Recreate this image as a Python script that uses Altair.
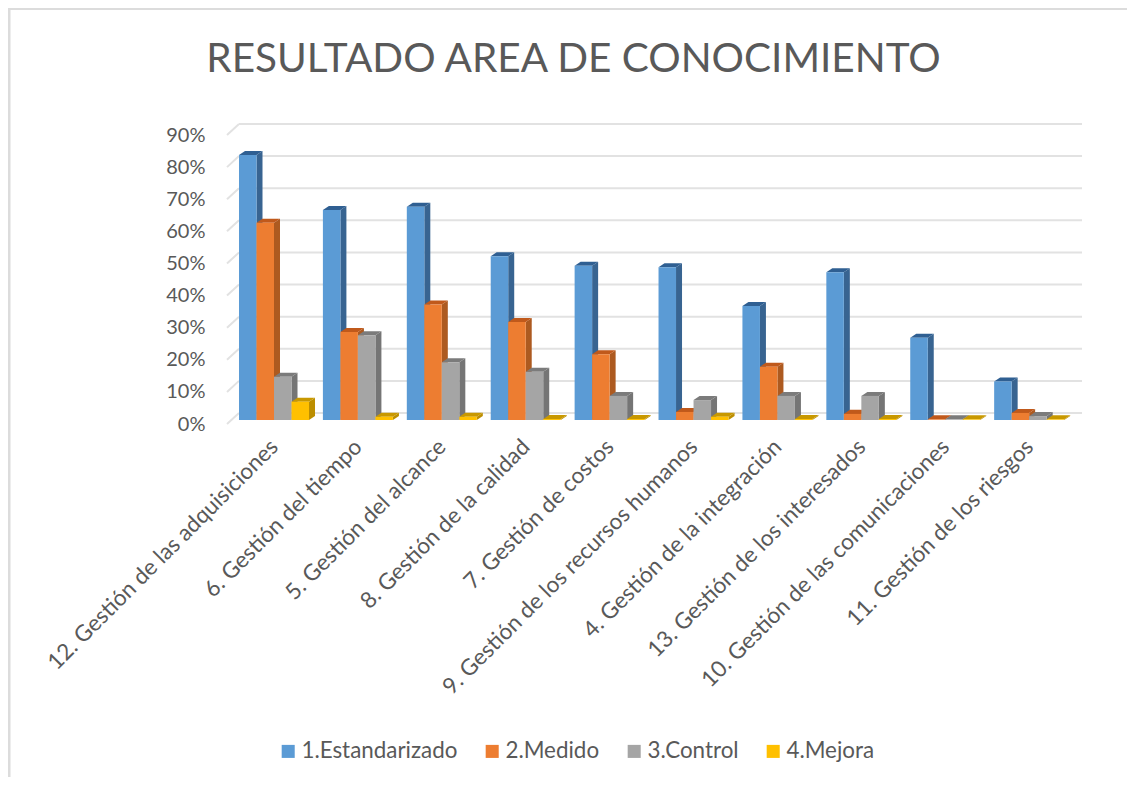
import altair as alt
import pandas as pd

categories = ["12. Gestión de las adquisiciones", "6. Gestión del tiempo", "5. Gestión del alcance",
              "8. Gestión de la calidad", "7. Gestión de costos", "9. Gestión de los recursos humanos",
              "4. Gestión de la integración", "13. Gestión de los interesados",
              "10. Gestión de las comunicaciones", "11. Gestión de los riesgos"]
series_names = ["1.Estandarizado", "2.Medido", "3.Control", "4.Mejora"]
estandarizado = [82.5, 65.4, 66.4, 51, 48, 47.6, 35.5, 46, 25.6, 12]
medido = [61.4, 27.4, 36, 30.5, 20.5, 2.5, 16.6, 1.9, 0.2, 2.2]
control = [13.5, 26.4, 18, 15, 7.5, 6.2, 7.5, 7.5, 0.2, 1.2]
mejora = [5.7, 1.0, 1.0, 0.3, 0.3, 1.0, 0.3, 0.3, 0.2, 0.2]
ticks = [0, 10, 20, 30, 40, 50, 60, 70, 80, 90]

front_colors = ["#5b9bd5", "#ed7d31", "#a5a5a5", "#ffc000"]
side_colors = ["#386491", "#ad5a20", "#757575", "#bc8e00"]
top_colors = ["#2f5f92", "#c0591b", "#7b7b7b", "#c89800"]

BAR_W = 0.2086      # bar width, in category units
DX, DY = 0.0715, 1.25  # depth of a bar
WX, WY = 0.143, 3.43   # depth of the walls
X0, X1 = -0.56, 9.63
Y_MAX = 93.43
PX_W, PX_H = 855, 300
PAD_L, PAD_T, PAD_R, PAD_B = 219, 116, 45, 353

x_scale = alt.Scale(domain=[X0, X1], nice=False, zero=False)
y_scale = alt.Scale(domain=[0, Y_MAX], nice=False, zero=False)
FONT = "Lato"
TXT = "#595959"
all_values = [estandarizado, medido, control, mejora]

# every layer carries the same axis definition, so that they merge unchanged
x_axis = alt.Axis(
    values=list(range(len(categories))),
    labelExpr="[" + ",".join("'%s'" % c for c in categories) + "][datum.value]",
    labelAngle=-45, labelAlign="right", labelBaseline="middle", labelFontSize=22.5, labelFont=FONT,
    labelColor=TXT, labelPadding=19, labelLimit=500, labelOverlap=False, labelBound=False,
    labelFlush=False, ticks=False, domain=False, grid=False, title=None)
y_axis = alt.Axis(
    values=ticks, labelExpr="datum.value + '%'", labelFontSize=20, labelFont=FONT, labelColor=TXT,
    labelPadding=22, labelOverlap=False, labelBound=False, labelFlush=False,
    ticks=False, domain=False, grid=False, title=None)


def qx(field):
    return alt.X(field, scale=x_scale, axis=x_axis)


def qy(field):
    return alt.Y(field, scale=y_scale, axis=y_axis)


# walls / gridlines
grid = pd.DataFrame({"v": ticks})
grid["y"] = grid.v + WY
grid["xa"] = X0 + WX
grid["xb"] = X1
gridlines = alt.Chart(grid).mark_rule(color="#e2e2e2", strokeWidth=2).encode(
    x=qx("xa:Q"), x2="xb:Q", y=qy("y:Q"))
diag_rows = []
for v in ticks:
    diag_rows += [{"v": v, "x": X0, "y": v}, {"v": v, "x": X0 + WX, "y": v + WY}]
diagonals = alt.Chart(pd.DataFrame(diag_rows)).mark_line(color="#e2e2e2", strokeWidth=2).encode(
    x=qx("x:Q"), y=qy("y:Q"), detail="v:N")

# outer frame of the chart (top and left edges)
frame_top = alt.Chart(pd.DataFrame({"a": [0]})).mark_rule(color="#dcdcdc", strokeWidth=2).encode(
    x=alt.value(-PAD_L), x2=alt.value(PX_W + PAD_R), y=alt.value(-PAD_T + 1))
frame_left = alt.Chart(pd.DataFrame({"a": [0]})).mark_rule(color="#dcdcdc", strokeWidth=3).encode(
    x=alt.value(-PAD_L + 1), y=alt.value(-PAD_T), y2=alt.value(PX_H + PAD_B))

layers = [gridlines, frame_top, frame_left, diagonals]
BASE = 1.25
for s, name in enumerate(series_names):
    side, top, front = [], [], []
    for i, v in enumerate(all_values[s]):
        x_left = i - 0.417 + s * BAR_W
        x_right = x_left + BAR_W
        y_top = BASE + v
        front.append({"series": name, "x": x_left, "x2": x_right, "y": BASE, "y2": y_top})
        side += [{"id": i, "x": x_right, "y": BASE, "y2": y_top},
                 {"id": i, "x": x_right + DX, "y": BASE + DY, "y2": y_top + DY}]
        top += [{"id": i, "y": y_top, "x": x_left, "x2": x_right},
                {"id": i, "y": y_top + DY, "x": x_left + DX, "x2": x_right + DX}]
    layers.append(alt.Chart(pd.DataFrame(side)).mark_area(color=side_colors[s], orient="vertical").encode(
        x=qx("x:Q"), y=qy("y:Q"), y2="y2:Q", detail="id:N"))
    layers.append(alt.Chart(pd.DataFrame(top)).mark_area(color=top_colors[s], orient="horizontal").encode(
        y=qy("y:Q"), x=qx("x:Q"), x2="x2:Q", detail="id:N"))
    layers.append(alt.Chart(pd.DataFrame(front)).mark_rect().encode(
        x=qx("x:Q"), x2="x2:Q",
        y=qy("y:Q"), y2="y2:Q",
        color=alt.Color("series:N", scale=alt.Scale(domain=series_names, range=front_colors), legend=alt.Legend(
            title=None, orient="none", legendX=50, legendY=616, direction="horizontal", columns=4,
            symbolType="square", symbolSize=170, symbolStrokeWidth=0, labelFontSize=22.4, labelFont=FONT,
            labelColor=TXT, labelOffset=2, columnPadding=23, labelLimit=300))))

chart = alt.layer(*layers).resolve_scale(x="shared", y="shared").properties(
    width=PX_W, height=PX_H,
    autosize=alt.AutoSizeParams(type="none"),
    padding={"left": PAD_L, "top": PAD_T, "right": PAD_R, "bottom": PAD_B},
    title=alt.TitleParams("RESULTADO AREA DE CONOCIMIENTO", fontSize=40.5, font=FONT, fontWeight="normal",
                          color=TXT, anchor="middle", dx=-81, offset=-74),
).configure_view(stroke=None)

chart.save("out.html", embed_options={"renderer": "svg", "actions": False})
